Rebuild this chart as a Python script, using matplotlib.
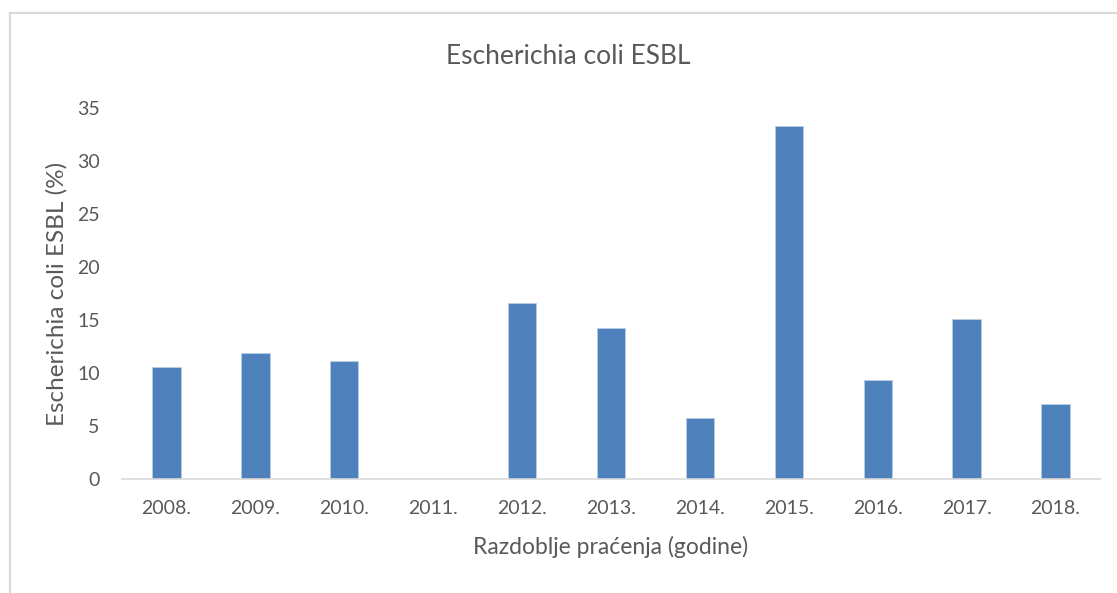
import matplotlib.pyplot as plt
import matplotlib.lines as mlines

# podaci očitani s grafa
godine = ['2008.', '2009.', '2010.', '2011.', '2012.', '2013.',
          '2014.', '2015.', '2016.', '2017.', '2018.']
postotak = [10.6, 11.9, 11.1, 0, 16.6, 14.2, 5.8, 33.3, 9.3, 15.1, 7.1]

plt.rcParams['font.family'] = ['Lato', 'DejaVu Sans']
siva = '#595959'

fig = plt.figure(figsize=(11.17, 5.93), dpi=100)
ax = fig.add_axes([0.1092, 0.1922, 0.8756, 0.6257])

ax.bar(range(len(godine)), postotak, width=0.32, color='#4F81BD',
       edgecolor='#B9CDE5', linewidth=0.6)

ax.set_xlim(-0.5, len(godine) - 0.5)
ax.set_ylim(0, 35)
ax.set_yticks(range(0, 36, 5))
ax.set_xticks(range(len(godine)))
ax.set_xticklabels(godine)

for s in ['top', 'right', 'left']:
    ax.spines[s].set_visible(False)
ax.spines['bottom'].set_color('#D9D9D9')
ax.spines['bottom'].set_linewidth(1.2)

ax.tick_params(axis='both', length=0, labelsize=14, colors=siva)
ax.tick_params(axis='y', pad=16)
ax.tick_params(axis='x', pad=15)

ax.set_xlabel('Razdoblje praćenja (godine)', fontsize=16.5, color=siva, labelpad=14)
ax.set_ylabel('Escherichia coli ESBL (%)', fontsize=17.5, color=siva)
ax.yaxis.set_label_coords(-0.056, 0.5)

fig.text(568 / 1117, 1 - 56 / 593, 'Escherichia coli ESBL', fontsize=19,
         color=siva, ha='center', va='center')

# okvir grafikona
fig.add_artist(mlines.Line2D([10 / 1117, 10 / 1117], [0, 1 - 13 / 593],
                             color='#D9D9D9', linewidth=1.5))
fig.add_artist(mlines.Line2D([10 / 1117, 1], [1 - 13 / 593, 1 - 13 / 593],
                             color='#D9D9D9', linewidth=1.5))

fig.savefig('out.png', dpi=100, facecolor='white')
